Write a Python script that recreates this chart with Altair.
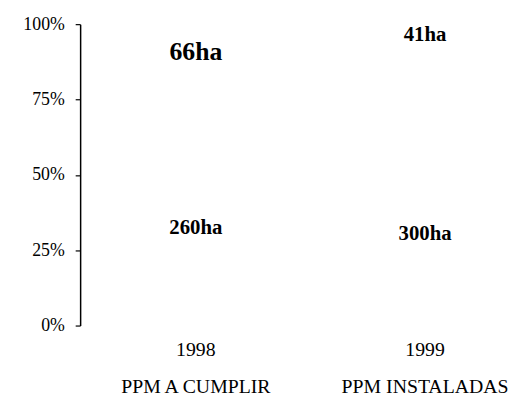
import altair as alt
import pandas as pd

categories = ["1998|PPM A CUMPLIR", "1999|PPM INSTALADAS"]
bottom_ha = [260, 300]
top_ha = [66, 41]
label_bottom = ["260ha", "300ha"]
label_top = ["66ha", "41ha"]
label_pos_bottom = [0.325, 0.302]
label_pos_top = [0.908, 0.964]

rows = []
for i, c in enumerate(categories):
    rows.append({"cat": c, "ord": 0, "ha": bottom_ha[i],
                 "label": label_bottom[i], "pos": label_pos_bottom[i]})
    rows.append({"cat": c, "ord": 1, "ha": top_ha[i],
                 "label": label_top[i], "pos": label_pos_top[i]})
df = pd.DataFrame(rows)

FONT = "Liberation Serif"

xscale = alt.Scale(paddingInner=0.5, paddingOuter=0.177, align=0.72)
x_axis = alt.Axis(labelExpr="split(datum.label, '|')", labelAngle=0,
                  labelFont=FONT, labelFontSize=20, labelColor="black",
                  labelLineHeight=38, labelPadding=14, ticks=False,
                  domain=False, grid=False, labelBaseline="top")
y_axis = alt.Axis(values=[0, 0.25, 0.5, 0.75, 1], format="%", grid=False,
                  labelFont=FONT, labelFontSize=18, labelColor="black",
                  labelPadding=11, tickSize=5, tickColor="black",
                  domainColor="black", domainWidth=1.5, tickWidth=1.2)
yscale = alt.Scale(domain=[0, 1])

bars = alt.Chart(df).mark_bar(color="white", strokeWidth=0).encode(
    x=alt.X("cat:N", sort=categories, scale=xscale, title=None, axis=x_axis),
    y=alt.Y("ha:Q", stack="normalize", title=None, scale=yscale, axis=y_axis),
    order=alt.Order("ord:Q"),
)

size_enc = alt.condition(alt.datum.label == "66ha", alt.value(26), alt.value(21))

texts = alt.Chart(df).mark_text(
    font=FONT, fontWeight="bold", color="black"
).encode(
    x=alt.X("cat:N", sort=categories, scale=xscale, title=None, axis=x_axis),
    y=alt.Y("pos:Q", title=None, scale=yscale, axis=y_axis),
    text="label:N",
    size=size_enc,
)

chart = alt.layer(bars, texts).properties(
    width=430, height=305,
    autosize=alt.AutoSizeParams(type="none"),
    padding={"left": 73, "top": 14, "right": 4, "bottom": 74},
).configure(
    background="white", font=FONT,
    view=alt.ViewConfig(strokeWidth=0, stroke="transparent"),
    axis=alt.AxisConfig(grid=False, labelFont=FONT),
    text=alt.MarkConfig(font=FONT),
)

chart.save("out.html", embed_options={"renderer": "svg", "actions": False})
